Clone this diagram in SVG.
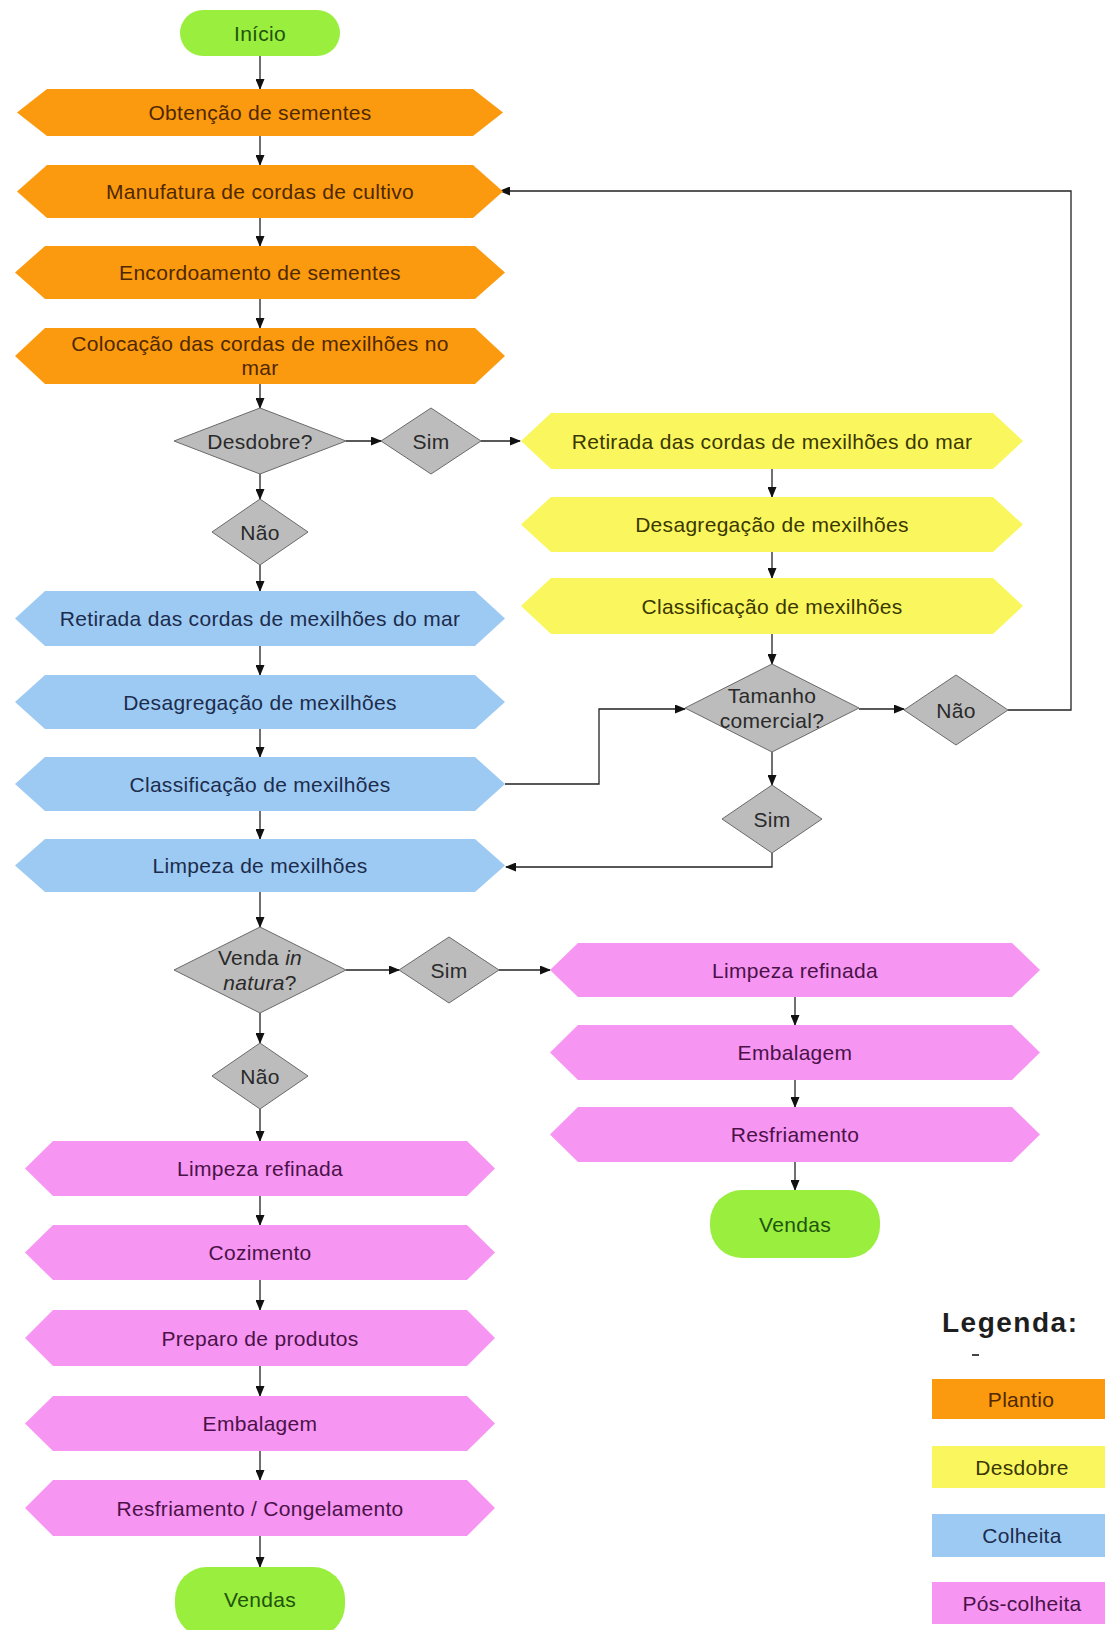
<svg xmlns="http://www.w3.org/2000/svg" width="1105" height="1630" viewBox="0 0 1105 1630">
  <defs>
    <marker id="arrow" markerWidth="11" markerHeight="9" refX="10" refY="4.5" orient="auto" markerUnits="userSpaceOnUse">
      <path d="M0,0 L11,4.5 L0,9 z" fill="#111"/>
    </marker>
    <style>
      text { font-family: "Liberation Sans", Arial, sans-serif; font-size: 21px; text-anchor: middle; dominant-baseline: central; letter-spacing: 0.3px; }
      .plantio { fill: #FB9A0E; }
      .plantio-t { fill: #4F2800; }
      .desdobre { fill: #FAF75E; }
      .desdobre-t { fill: #3A3800; }
      .colheita { fill: #9DCAF3; }
      .colheita-t { fill: #1C2C4C; }
      .pos { fill: #F795F3; }
      .pos-t { fill: #4A1248; }
      .term { fill: #99EE3E; }
      .term-t { fill: #21540C; }
      .dec { fill: #BCBCBC; stroke: #6A6A6A; stroke-width: 1; }
      .dec-t { fill: #2A2A2A; }
      .conn { fill: none; stroke: #222; stroke-width: 1.3; }
      .legend-title { font-size: 28px; font-weight: bold; letter-spacing: 1.5px; fill: #1E1E1E; text-anchor: start; }
    </style>
  </defs>

  <rect x="0" y="0" width="1105" height="1630" fill="#FFFFFF"/>

  <!-- connectors -->
  <g id="connectors">
    <line class="conn" x1="260" y1="56" x2="260" y2="89" marker-end="url(#arrow)"/>
    <line class="conn" x1="260" y1="136" x2="260" y2="165" marker-end="url(#arrow)"/>
    <line class="conn" x1="260" y1="218" x2="260" y2="246" marker-end="url(#arrow)"/>
    <line class="conn" x1="260" y1="299" x2="260" y2="328" marker-end="url(#arrow)"/>
    <line class="conn" x1="260" y1="384" x2="260" y2="408" marker-end="url(#arrow)"/>
    <line class="conn" x1="346" y1="441" x2="381" y2="441" marker-end="url(#arrow)"/>
    <line class="conn" x1="481" y1="441" x2="520" y2="441" marker-end="url(#arrow)"/>
    <line class="conn" x1="260" y1="474" x2="260" y2="499" marker-end="url(#arrow)"/>
    <line class="conn" x1="260" y1="565" x2="260" y2="591" marker-end="url(#arrow)"/>
    <line class="conn" x1="260" y1="646" x2="260" y2="675" marker-end="url(#arrow)"/>
    <line class="conn" x1="260" y1="729" x2="260" y2="757" marker-end="url(#arrow)"/>
    <line class="conn" x1="260" y1="811" x2="260" y2="839" marker-end="url(#arrow)"/>
    <line class="conn" x1="772" y1="469" x2="772" y2="497" marker-end="url(#arrow)"/>
    <line class="conn" x1="772" y1="552" x2="772" y2="578" marker-end="url(#arrow)"/>
    <line class="conn" x1="772" y1="634" x2="772" y2="664" marker-end="url(#arrow)"/>
    <line class="conn" x1="859" y1="709" x2="904" y2="709" marker-end="url(#arrow)"/>
    <polyline class="conn" points="1008,710 1071,710 1071,191 500,191" marker-end="url(#arrow)"/>
    <polyline class="conn" points="505,784 599,784 599,709 685,709" marker-end="url(#arrow)"/>
    <line class="conn" x1="772" y1="752" x2="772" y2="785" marker-end="url(#arrow)"/>
    <polyline class="conn" points="772,853 772,867 506,867" marker-end="url(#arrow)"/>
    <line class="conn" x1="260" y1="892" x2="260" y2="927" marker-end="url(#arrow)"/>
    <line class="conn" x1="346" y1="970" x2="399" y2="970" marker-end="url(#arrow)"/>
    <line class="conn" x1="499" y1="970" x2="550" y2="970" marker-end="url(#arrow)"/>
    <line class="conn" x1="260" y1="1013" x2="260" y2="1043" marker-end="url(#arrow)"/>
    <line class="conn" x1="260" y1="1109" x2="260" y2="1141" marker-end="url(#arrow)"/>
    <line class="conn" x1="260" y1="1196" x2="260" y2="1225" marker-end="url(#arrow)"/>
    <line class="conn" x1="260" y1="1280" x2="260" y2="1310" marker-end="url(#arrow)"/>
    <line class="conn" x1="260" y1="1366" x2="260" y2="1396" marker-end="url(#arrow)"/>
    <line class="conn" x1="260" y1="1451" x2="260" y2="1480" marker-end="url(#arrow)"/>
    <line class="conn" x1="260" y1="1536" x2="260" y2="1567" marker-end="url(#arrow)"/>
    <line class="conn" x1="795" y1="997" x2="795" y2="1025" marker-end="url(#arrow)"/>
    <line class="conn" x1="795" y1="1080" x2="795" y2="1107" marker-end="url(#arrow)"/>
    <line class="conn" x1="795" y1="1162" x2="795" y2="1190" marker-end="url(#arrow)"/>
  </g>

  <!-- start -->
  <g id="inicio">
    <rect class="term" x="180" y="10" width="160" height="46" rx="23"/>
    <text class="term-t" x="260" y="33">Início</text>
  </g>

  <!-- planting stage -->
  <g id="obtencao">
    <polygon class="plantio" points="17,112.5 47,89 473,89 503,112.5 473,136 47,136"/>
    <text class="plantio-t" x="260" y="112">Obtenção de sementes</text>
  </g>
  <g id="manufatura">
    <polygon class="plantio" points="17,191.5 47,165 473,165 503,191.5 473,218 47,218"/>
    <text class="plantio-t" x="260" y="191">Manufatura de cordas de cultivo</text>
  </g>
  <g id="encordoamento">
    <polygon class="plantio" points="15,272.5 45,246 475,246 505,272.5 475,299 45,299"/>
    <text class="plantio-t" x="260" y="272">Encordoamento de sementes</text>
  </g>
  <g id="colocacao">
    <polygon class="plantio" points="15,356 45,328 475,328 505,356 475,384 45,384"/>
    <text class="plantio-t" x="260" y="343">Colocação das cordas de mexilhões no</text>
    <text class="plantio-t" x="260" y="367">mar</text>
  </g>

  <!-- decision: thinning -->
  <g id="desdobre-q">
    <polygon class="dec" points="174,441 260,408 346,441 260,474"/>
    <text class="dec-t" x="260" y="441">Desdobre?</text>
  </g>
  <g id="desdobre-sim">
    <polygon class="dec" points="381,441 431,408 481,441 431,474"/>
    <text class="dec-t" x="431" y="441">Sim</text>
  </g>
  <g id="desdobre-nao">
    <polygon class="dec" points="212,532 260,499 308,532 260,565"/>
    <text class="dec-t" x="260" y="532">Não</text>
  </g>

  <!-- thinning stage -->
  <g id="d-retirada">
    <polygon class="desdobre" points="521,441 551,413 993,413 1023,441 993,469 551,469"/>
    <text class="desdobre-t" x="772" y="441">Retirada das cordas de mexilhões do mar</text>
  </g>
  <g id="d-desagregacao">
    <polygon class="desdobre" points="521,524.5 551,497 993,497 1023,524.5 993,552 551,552"/>
    <text class="desdobre-t" x="772" y="524">Desagregação de mexilhões</text>
  </g>
  <g id="d-classificacao">
    <polygon class="desdobre" points="521,606 551,578 993,578 1023,606 993,634 551,634"/>
    <text class="desdobre-t" x="772" y="606">Classificação de mexilhões</text>
  </g>
  <g id="tamanho-q">
    <polygon class="dec" points="685,708 772,664 859,708 772,752"/>
    <text class="dec-t" x="772" y="695">Tamanho</text>
    <text class="dec-t" x="772" y="720">comercial?</text>
  </g>
  <g id="tamanho-nao">
    <polygon class="dec" points="904,710 956,675 1008,710 956,745"/>
    <text class="dec-t" x="956" y="710">Não</text>
  </g>
  <g id="tamanho-sim">
    <polygon class="dec" points="722,819 772,785 822,819 772,853"/>
    <text class="dec-t" x="772" y="819">Sim</text>
  </g>

  <!-- harvest stage -->
  <g id="c-retirada">
    <polygon class="colheita" points="15,618.5 45,591 475,591 505,618.5 475,646 45,646"/>
    <text class="colheita-t" x="260" y="618">Retirada das cordas de mexilhões do mar</text>
  </g>
  <g id="c-desagregacao">
    <polygon class="colheita" points="15,702 45,675 475,675 505,702 475,729 45,729"/>
    <text class="colheita-t" x="260" y="702">Desagregação de mexilhões</text>
  </g>
  <g id="c-classificacao">
    <polygon class="colheita" points="15,784 45,757 475,757 505,784 475,811 45,811"/>
    <text class="colheita-t" x="260" y="784">Classificação de mexilhões</text>
  </g>
  <g id="c-limpeza">
    <polygon class="colheita" points="15,865.5 45,839 475,839 505,865.5 475,892 45,892"/>
    <text class="colheita-t" x="260" y="865">Limpeza de mexilhões</text>
  </g>

  <!-- decision: fresh sale -->
  <g id="venda-q">
    <polygon class="dec" points="174,970 260,927 346,970 260,1013"/>
    <text class="dec-t" x="260" y="957">Venda <tspan font-style="italic">in</tspan></text>
    <text class="dec-t" x="260" y="982"><tspan font-style="italic">natura</tspan>?</text>
  </g>
  <g id="venda-sim">
    <polygon class="dec" points="399,970 449,937 499,970 449,1003"/>
    <text class="dec-t" x="449" y="970">Sim</text>
  </g>
  <g id="venda-nao">
    <polygon class="dec" points="212,1076 260,1043 308,1076 260,1109"/>
    <text class="dec-t" x="260" y="1076">Não</text>
  </g>

  <!-- post-harvest, fresh branch -->
  <g id="r-limpeza">
    <polygon class="pos" points="550,970 578,943 1012,943 1040,970 1012,997 578,997"/>
    <text class="pos-t" x="795" y="970">Limpeza refinada</text>
  </g>
  <g id="r-embalagem">
    <polygon class="pos" points="550,1052.5 578,1025 1012,1025 1040,1052.5 1012,1080 578,1080"/>
    <text class="pos-t" x="795" y="1052">Embalagem</text>
  </g>
  <g id="r-resfriamento">
    <polygon class="pos" points="550,1134.5 578,1107 1012,1107 1040,1134.5 1012,1162 578,1162"/>
    <text class="pos-t" x="795" y="1134">Resfriamento</text>
  </g>
  <g id="r-vendas">
    <rect class="term" x="710" y="1190" width="170" height="68" rx="32"/>
    <text class="term-t" x="795" y="1224">Vendas</text>
  </g>

  <!-- post-harvest, processed branch -->
  <g id="l-limpeza">
    <polygon class="pos" points="25,1168.5 53,1141 467,1141 495,1168.5 467,1196 53,1196"/>
    <text class="pos-t" x="260" y="1168">Limpeza refinada</text>
  </g>
  <g id="l-cozimento">
    <polygon class="pos" points="25,1252.5 53,1225 467,1225 495,1252.5 467,1280 53,1280"/>
    <text class="pos-t" x="260" y="1252">Cozimento</text>
  </g>
  <g id="l-preparo">
    <polygon class="pos" points="25,1338 53,1310 467,1310 495,1338 467,1366 53,1366"/>
    <text class="pos-t" x="260" y="1338">Preparo de produtos</text>
  </g>
  <g id="l-embalagem">
    <polygon class="pos" points="25,1423.5 53,1396 467,1396 495,1423.5 467,1451 53,1451"/>
    <text class="pos-t" x="260" y="1423">Embalagem</text>
  </g>
  <g id="l-resfriamento">
    <polygon class="pos" points="25,1508 53,1480 467,1480 495,1508 467,1536 53,1536"/>
    <text class="pos-t" x="260" y="1508">Resfriamento / Congelamento</text>
  </g>
  <g id="l-vendas">
    <rect class="term" x="175" y="1567" width="170" height="70" rx="32"/>
    <text class="term-t" x="260" y="1599">Vendas</text>
  </g>

  <!-- legend -->
  <g id="legenda">
    <text class="legend-title" x="942" y="1322">Legenda:</text>
    <line x1="972" y1="1355" x2="979" y2="1355" stroke="#444" stroke-width="2"/>
    <rect class="plantio" x="932" y="1379" width="173" height="40"/>
    <text class="plantio-t" x="1021" y="1399">Plantio</text>
    <rect class="desdobre" x="932" y="1446" width="173" height="42"/>
    <text class="desdobre-t" x="1022" y="1467">Desdobre</text>
    <rect class="colheita" x="932" y="1514" width="173" height="43"/>
    <text class="colheita-t" x="1022" y="1535">Colheita</text>
    <rect class="pos" x="932" y="1582" width="173" height="42"/>
    <text class="pos-t" x="1022" y="1603">Pós-colheita</text>
  </g>
</svg>
